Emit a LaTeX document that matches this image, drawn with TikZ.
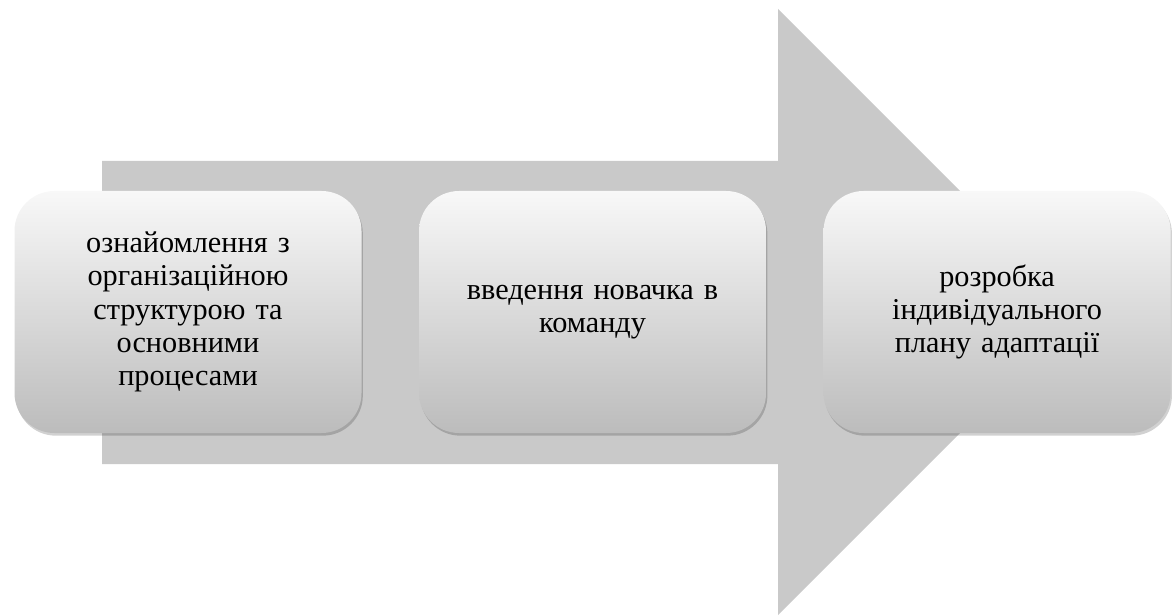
\documentclass[tikz,border=0pt]{standalone}
\usepackage{fontspec}
\setmainfont{Liberation Serif}
\usetikzlibrary{positioning,shadows}
\definecolor{arrowgray}{RGB}{201,201,201}
\definecolor{boxtop}{RGB}{248,248,248}
\definecolor{boxbottom}{RGB}{188,188,188}

\begin{document}
\begin{tikzpicture}[x=0.75pt,y=-0.75pt,
	stepbox/.style={rectangle, rounded corners=30pt,
		minimum width=260.25pt, minimum height=181.5pt,
		text width=245pt, align=center,
		font=\fontsize{22.7}{25}\selectfont,
		top color=boxtop, bottom color=boxbottom,
		drop shadow={shadow xshift=1pt, shadow yshift=-2pt, fill=black, opacity=0.18}}]
				\useasboundingbox (0,0) rectangle (1176,616);
				% big arrow behind the steps
				\fill[arrowgray] (102,161) -- (778,161) -- (778,9) -- (1081,312)
					-- (778,615) -- (778,464) -- (102,464) -- cycle;
				% the three steps
				\node[stepbox] (orient) at (188,312) {ознайомлення з\\ організаційною\\ структурою та\\ основними\\ процесами};
				\node[stepbox, right=42.75pt of orient] (team) {введення новачка в\\ команду};
				\node[stepbox, right=42.75pt of team] (plan) {розробка\\ індивідуального\\ плану адаптації};
			\end{tikzpicture}
\end{document}
